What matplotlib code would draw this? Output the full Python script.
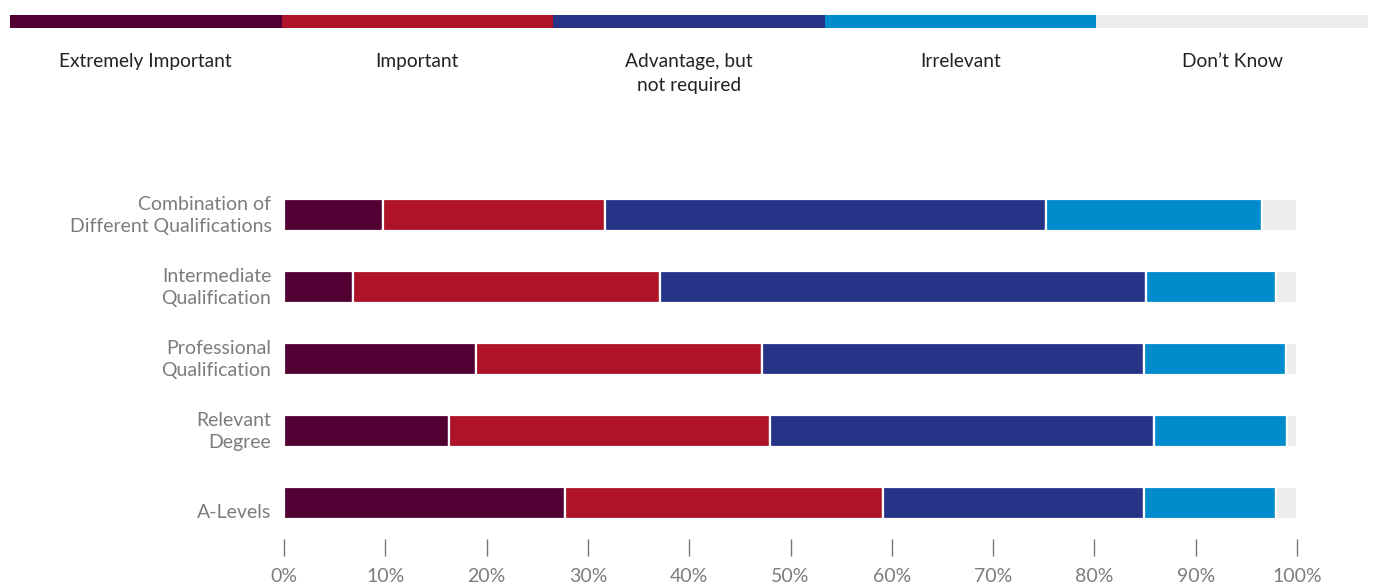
import matplotlib.pyplot as plt
import matplotlib.transforms as mtransforms
import numpy as np

plt.rcParams['font.family'] = ['Lato', 'DejaVu Sans']

categories = ["Combination of\nDifferent Qualifications", "Intermediate\nQualification",
              "Professional\nQualification", "Relevant\nDegree", "A-Levels"]
series_names = ["Extremely Important", "Important", "Advantage, but\nnot required",
                "Irrelevant", "Don\u2019t Know"]
extremely_important = [9.8, 6.8, 19.0, 16.3, 27.7]
important = [21.9, 30.3, 28.2, 31.7, 31.4]
advantage = [43.5, 48.0, 37.7, 37.9, 25.8]
irrelevant = [21.3, 12.8, 14.0, 13.1, 13.0]
dont_know = [3.5, 2.1, 1.1, 1.0, 2.1]
tick_labels = ["0%", "10%", "20%", "30%", "40%", "50%", "60%", "70%", "80%", "90%", "100%"]

colors = ["#520033", "#ae1328", "#263387", "#008ccc", "#ebecec"]
series = [extremely_important, important, advantage, irrelevant, dont_know]

fig = plt.figure(figsize=(13.75, 5.86), dpi=100)

# main chart
ax = fig.add_axes([284 / 1375, (586 - 539) / 586, 1013 / 1375, 360 / 586])
y = np.arange(len(categories))
left = np.zeros(len(categories))
for vals, c in zip(series, colors):
    ax.barh(y, vals, left=left, height=0.445, color=c, edgecolor="white", linewidth=1.6)
    left += np.array(vals)

ax.set_xlim(0, 100)
ax.set_ylim(len(categories) - 0.5, -0.5)
ax.set_yticks(y)
ax.set_yticklabels(categories, fontsize=14, color="#7a7d80", linespacing=1.3)
ax.set_xticks(np.arange(0, 101, 10))
ax.set_xticklabels(tick_labels, fontsize=14, color="#7a7d80")
ax.tick_params(axis="y", length=0, pad=9)
ax.tick_params(axis="x", length=12, width=1, color="#777777", pad=9)
for s in ax.spines.values():
    s.set_visible(False)

# nudge labels: two-line ones up a bit, single-line one sits low like a second line
for lbl in ax.get_yticklabels():
    dy = 3 if "\n" in lbl.get_text() else -8
    lbl.set_transform(lbl.get_transform() +
                      mtransforms.ScaledTranslation(0, dy / 100, fig.dpi_scale_trans))

# legend strip at top
lax = fig.add_axes([10 / 1375, (586 - 28) / 586, 1358 / 1375, 13 / 586])
for i, c in enumerate(colors):
    lax.barh(0, 1, left=i, height=1, color=c, linewidth=0)
lax.set_xlim(0, len(colors))
lax.set_ylim(-0.5, 0.5)
lax.axis("off")
for i, name in enumerate(series_names):
    fig.text((10 + 1358 * (i + 0.5) / 5) / 1375, (586 - 53) / 586, name,
             ha="center", va="top", fontsize=13.8, color="#222222", linespacing=1.5)

fig.savefig("out.png", dpi=100)
